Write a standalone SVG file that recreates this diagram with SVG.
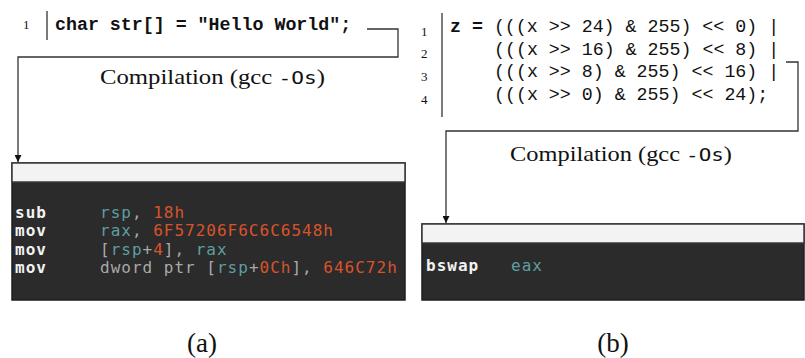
<svg xmlns="http://www.w3.org/2000/svg" width="805" height="358" viewBox="0 0 805 358">
<style>
.code{font-family:"Liberation Mono","DejaVu Sans Mono",monospace;font-size:18.3px;fill:#111}
.b{font-weight:bold}
.ln{font-family:"Liberation Serif",serif;font-size:13px;fill:#111}
.bar{stroke:#222;stroke-width:1.2}
.lbl{font-family:"Liberation Serif",serif;font-size:21px;fill:#111}
.lblm{font-family:"DejaVu Sans Mono",monospace;font-size:18px}
.cap{font-family:"Liberation Serif",serif;font-size:27px;fill:#111}
.asm{font-family:"DejaVu Sans Mono",monospace;font-size:16px;letter-spacing:1px}
.mn{fill:#f2f2f2;font-weight:bold}
.rg{fill:#5e9ea0}
.nm{fill:#d9532c}
.gy{fill:#a9a9a9}
.hdr{fill:#f3f3f3;stroke:#3a3a3a;stroke-width:1.5}
.body{fill:#2b2b2b;stroke:#1e1e1e;stroke-width:1.5}
.conn{fill:none;stroke:#333;stroke-width:1.3}
</style>
<defs>
<marker id="ah" viewBox="0 0 10 10" refX="10" refY="5" markerWidth="7" markerHeight="7" orient="auto" markerUnits="userSpaceOnUse">
<path d="M0,0 L10,5 L0,10 z" fill="#111"/>
</marker>
</defs>

<g id="code-a">
<text class="ln" x="23" y="29">1</text>
<line class="bar" x1="47" y1="11" x2="47" y2="40"/>
<text class="code b" x="55" y="30">char str[] = "Hello World";</text>
</g>

<g id="code-b">
<text class="ln" x="421" y="36">1</text>
<text class="ln" x="421" y="58">2</text>
<text class="ln" x="421" y="81">3</text>
<text class="ln" x="421" y="104">4</text>
<line class="bar" x1="442" y1="13" x2="442" y2="117"/>
<text class="code" x="450" y="32"><tspan class="b">z =</tspan> (((x &gt;&gt; 24) &amp; 255) &lt;&lt; 0) |</text>
<text class="code" x="494" y="54.5">(((x &gt;&gt; 16) &amp; 255) &lt;&lt; 8) |</text>
<text class="code" x="494" y="77">(((x &gt;&gt; 8) &amp; 255) &lt;&lt; 16) |</text>
<text class="code" x="494" y="99.5">(((x &gt;&gt; 0) &amp; 255) &lt;&lt; 24);</text>
</g>

<g id="connectors">
<path class="conn" d="M367,29 H398 V57 H18 V162" marker-end="url(#ah)"/>
<path class="conn" d="M786,62 H798 V131 H446 V223" marker-end="url(#ah)"/>
<text class="lbl" x="100" y="84" textLength="225" lengthAdjust="spacingAndGlyphs">Compilation (gcc <tspan class="lblm">-Os</tspan>)</text>
<text class="lbl" x="510" y="161" textLength="222" lengthAdjust="spacingAndGlyphs">Compilation (gcc <tspan class="lblm">-Os</tspan>)</text>
</g>

<g id="asm-a">
<rect class="body" x="12" y="163" width="393" height="137"/>
<rect class="hdr" x="12" y="163" width="393" height="19"/>
<text class="asm mn" x="15" y="218">sub</text>
<text class="asm" x="100" y="218"><tspan class="rg">rsp</tspan><tspan class="gy">, </tspan><tspan class="nm">18h</tspan></text>
<text class="asm mn" x="15" y="236.3">mov</text>
<text class="asm" x="100" y="236.3"><tspan class="rg">rax</tspan><tspan class="gy">, </tspan><tspan class="nm">6F57206F6C6C6548h</tspan></text>
<text class="asm mn" x="15" y="254.7">mov</text>
<text class="asm" x="100" y="254.7"><tspan class="gy">[</tspan><tspan class="rg">rsp</tspan><tspan class="gy">+</tspan><tspan class="nm">4</tspan><tspan class="gy">], </tspan><tspan class="rg">rax</tspan></text>
<text class="asm mn" x="15" y="273">mov</text>
<text class="asm" x="100" y="273"><tspan class="gy">dword ptr [</tspan><tspan class="rg">rsp</tspan><tspan class="gy">+</tspan><tspan class="nm">0Ch</tspan><tspan class="gy">], </tspan><tspan class="nm">646C72h</tspan></text>
</g>

<g id="asm-b">
<rect class="body" x="422" y="224" width="382" height="76"/>
<rect class="hdr" x="422" y="224" width="382" height="19"/>
<text class="asm mn" x="426" y="271">bswap</text>
<text class="asm rg" x="511" y="271">eax</text>
</g>

<g id="captions">
<text class="cap" x="202" y="352" text-anchor="middle">(a)</text>
<text class="cap" x="613" y="352" text-anchor="middle">(b)</text>
</g>
</svg>
